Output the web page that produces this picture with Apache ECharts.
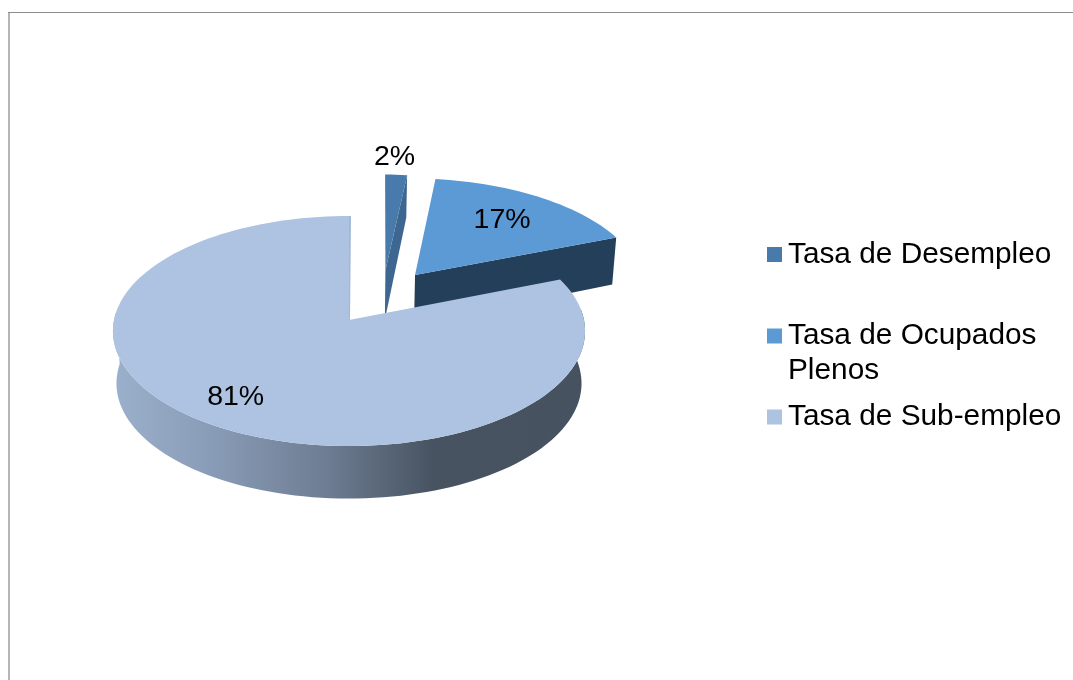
<!DOCTYPE html>
<html><head><meta charset="utf-8">
<style>html,body{margin:0;padding:0;background:#fff}#c{width:1073px;height:680px}</style>
<script src="https://cdn.jsdelivr.net/npm/echarts@6/dist/echarts.min.js"></script>
</head><body><div id="c"></div>
<script>
// Data
var categories = ['Tasa de Desempleo', 'Tasa de Ocupados Plenos', 'Tasa de Sub-empleo'];
var values = [2, 17, 81];
var legendFirstLines = ['Tasa de Desempleo', 'Tasa de Ocupados', 'Tasa de Sub-empleo'];
var legendSecondLine = 'Plenos';

// Styles and layout
var topColors = ['#487bab', '#5b9ad5', '#adc3e1'];
var cutColors = ['#3d6690', '#233f59', '#a3b8d4'];
var FONT = '"Liberation Sans", Arial, sans-serif';
var view = { cx: 349, cy: 320, rx: 235, ry: 114, persp: 0.0957, depth: 52.5, depthFar: 7, shrink: 0.985 };
var explodeOffset = [[0.175, 0.453], [0.292, 0.41], [0, 0]];
var sliceXScale = [0.85, 1, 1];
var apexShift = [-3, 0, 0];
var labelRadius = [1.2, 0.70, 0.77];
var labelShift = [[-3, 0], [-2, 1], [-5, 0]];
var notchWidth = 2;

function project(X, Y) {
  var d = 1 + view.persp * Y;
  return [view.cx + view.rx * X / d, view.cy - view.ry * Y / d, view.depth - view.depthFar * Math.max(0, Y)];
}
function slicePoint(i, deg, r) {
  var a = deg * Math.PI / 180, e = explodeOffset[i];
  return project(e[0] + r * sliceXScale[i] * Math.sin(a), e[1] + r * Math.cos(a));
}
function lower(p) {
  return [view.cx + (p[0] - view.cx) * view.shrink, p[1] + p[2]];
}
function xy(p) { return [p[0], p[1]]; }
function poly(points, fill, z) {
  return { type: 'polygon', z2: z, shape: { points: points }, style: { fill: fill } };
}
var total = values.reduce(function (a, b) { return a + b; }, 0);

function renderSlice(params, api) {
  var i = params.seriesIndex, v = api.value(0), start = 0;
  for (var k = 0; k < i; k++) start += values[k];
  var a0 = start / total * 360, a1 = a0 + v / total * 360;
  var apex = slicePoint(i, 0, 0);
  apex[0] += apexShift[i];
  var children = [];
  var steps = Math.max(4, Math.round((a1 - a0) / 2));
  var arc = [];
  for (var s = 0; s <= steps; s++) arc.push(slicePoint(i, a0 + (a1 - a0) * s / steps, 1));

  if (i === 2) {
    var rimTop = [], rimLow = [];
    arc.forEach(function (p, n) {
      var ang = a0 + (a1 - a0) * n / steps;
      if (ang >= 84 && ang <= 276) { rimTop.push(xy(p)); rimLow.push(lower(p)); }
    });
    var grad = new echarts.graphic.LinearGradient(0, 0, 1, 0, [
      { offset: 0, color: '#9bb0cc' }, { offset: 0.2, color: '#8a9db8' },
      { offset: 0.45, color: '#6e7d93' }, { offset: 0.68, color: '#475361' }, { offset: 1, color: '#465260' }
    ]);
    children.push(poly(rimLow.concat(rimTop.slice().reverse()), grad, 1));
    var last = arc[arc.length - 1];
    children.push(poly([xy(apex), xy(last), [last[0] + notchWidth, last[1]], [apex[0] + notchWidth / 2, apex[1]]], cutColors[i], 3));
  } else {
    var end = arc[arc.length - 1];
    children.push(poly([xy(apex), xy(end), lower(end), lower(apex)], cutColors[i], 1));
  }
  children.push(poly([xy(apex)].concat(arc.map(xy)), topColors[i], 2));

  var mid = (a0 + a1) / 2, lp = slicePoint(i, mid, labelRadius[i]);
  children.push({
    type: 'text', z2: 5,
    style: {
      text: v + '%', x: lp[0] + labelShift[i][0], y: lp[1] + labelShift[i][1],
      align: 'center', verticalAlign: 'middle',
      fill: '#000', font: '28.5px ' + FONT
    }
  });
  return { type: 'group', children: children };
}

var legendTops = [239.5, 321, 402];
var option = {
  animation: false,
  backgroundColor: '#fff',
  color: topColors,
  legend: categories.map(function (name, i) {
    return {
      data: [name], left: 767, top: legendTops[i], padding: 0, orient: 'vertical',
      itemWidth: 15, itemHeight: 15, icon: 'rect', selectedMode: false,
      formatter: function () { return legendFirstLines[i]; },
      textStyle: { color: '#000', fontSize: 29.8, fontFamily: FONT, padding: [6, 0, 0, 1] }
    };
  }),
  graphic: [
    { type: 'rect', silent: true, shape: { x: 8, y: 12, width: 2, height: 668 }, style: { fill: '#b5b5b5' } },
    { type: 'rect', silent: true, shape: { x: 8, y: 12, width: 1065, height: 1 }, style: { fill: '#8c8c8c' } },
    { type: 'text', silent: true, left: 788, top: 355.5, style: { text: legendSecondLine, fill: '#000', font: '29.8px ' + FONT } }
  ],
  series: categories.map(function (name, i) {
    return {
      type: 'custom', name: name, coordinateSystem: 'none', silent: true, clip: false,
      itemStyle: { color: topColors[i] },
      renderItem: renderSlice, data: [[values[i]]]
    };
  })
};
var chart = echarts.init(document.getElementById('c'), null, { renderer: 'canvas' });
chart.setOption(option);
</script></body></html>
